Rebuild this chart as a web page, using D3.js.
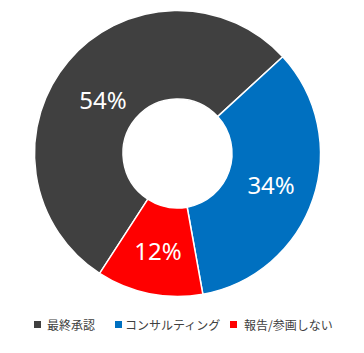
<!DOCTYPE html>
<html>
<head>
<meta charset="utf-8">
<script src="https://cdn.jsdelivr.net/npm/d3@7"></script>
<style>
  body { margin: 0; background: #fff; }
  svg { display: block; }
</style>
</head>
<body>
<div id="chart"></div>
<script>
// Chart data
var categories = ["最終承認", "コンサルティング", "報告/参画しない"];
var shares = [54, 34, 12];
var colors = ["#404040", "#0070C0", "#FF0000"];

var width = 364, height = 353;
var cx = 177.5, cy = 153.5;
var outerR = 143, innerR = 54.5;

var svg = d3.select("#chart")
    .append("svg")
    .attr("width", width)
    .attr("height", height);

var g = svg.append("g")
    .attr("transform", "translate(" + cx + "," + cy + ")");

// first slice starts at ~213 degrees (Excel rotation)
var start = 213 * Math.PI / 180;
var pie = d3.pie()
    .sort(null)
    .value(function (d) { return d; })
    .startAngle(start)
    .endAngle(start + 2 * Math.PI);

var arc = d3.arc().innerRadius(innerR).outerRadius(outerR);

var arcs = g.selectAll(".slice")
    .data(pie(shares))
    .enter()
    .append("g")
    .attr("class", "slice");

arcs.append("path")
    .attr("d", arc)
    .attr("fill", function (d, i) { return colors[i]; })
    .attr("stroke", "#fff")
    .attr("stroke-width", 1.5);

// percentage labels (Excel nudges the big one a bit toward the hole)
var nudge = [[1, 10], [0, 0], [0, 0]];
arcs.append("text")
    .attr("transform", function (d, i) {
        var c = arc.centroid(d);
        return "translate(" + (c[0] + nudge[i][0]) + "," + (c[1] + nudge[i][1]) + ")";
    })
    .attr("text-anchor", "middle")
    .attr("dominant-baseline", "central")
    .style("font-family", "'Noto Sans', sans-serif")
    .style("font-size", "24px")
    .style("fill", "#fff")
    .text(function (d) { return d.data + "%"; });

// Legend
var legendX = [34, 115, 230];
var textOffset = [13, 10, 14];
var legend = svg.selectAll(".legend")
    .data(categories)
    .enter()
    .append("g")
    .attr("class", "legend")
    .attr("transform", function (d, i) { return "translate(" + legendX[i] + ",321)"; });

legend.append("rect")
    .attr("width", 7)
    .attr("height", 7)
    .attr("fill", function (d, i) { return colors[i]; });

legend.append("text")
    .attr("x", function (d, i) { return textOffset[i]; })
    .attr("y", 3.5)
    .attr("dominant-baseline", "central")
    .style("font-family", "'Noto Sans CJK JP', sans-serif")
    .style("font-size", "12px")
    .style("fill", "#404040")
    .text(function (d) { return d; });
</script>
</body>
</html>
